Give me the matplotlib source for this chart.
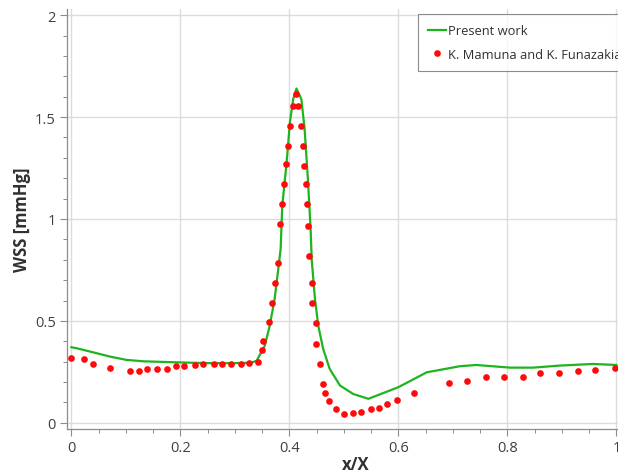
import numpy as np
import matplotlib.pyplot as plt
from matplotlib.ticker import MultipleLocator, FuncFormatter

plt.rcParams['font.family'] = ['Open Sans', 'DejaVu Sans']

# ---------------- data ----------------
# present work (green line)
present_x = [0.0, 0.01, 0.04, 0.071, 0.101, 0.132, 0.193, 0.25, 0.30, 0.33,
             0.34, 0.355, 0.364, 0.373, 0.379, 0.384, 0.387, 0.395, 0.401,
             0.407, 0.413, 0.422, 0.428, 0.434, 0.439, 0.441, 0.447, 0.453,
             0.462, 0.474, 0.493, 0.517, 0.545, 0.60, 0.652, 0.713, 0.743,
             0.805, 0.847, 0.896, 0.957, 1.0]
present_y = [0.371, 0.366, 0.346, 0.325, 0.309, 0.302, 0.297, 0.293, 0.293, 0.295,
             0.305, 0.379, 0.477, 0.608, 0.74, 0.853, 1.065, 1.278, 1.474,
             1.588, 1.64, 1.588, 1.441, 1.196, 0.951, 0.80, 0.608, 0.477,
             0.363, 0.265, 0.183, 0.142, 0.118, 0.175, 0.248, 0.278, 0.284,
             0.271, 0.271, 0.281, 0.289, 0.284]

# K. Mamuna and K. Funazakia (red dots)
ref_x = [0.0, 0.023, 0.04, 0.071, 0.107, 0.124, 0.138, 0.158, 0.176, 0.192,
         0.206, 0.226, 0.242, 0.261, 0.276, 0.293, 0.311, 0.326, 0.342, 0.349,
         0.352, 0.363, 0.369, 0.373, 0.379, 0.383, 0.386, 0.39, 0.393, 0.398,
         0.402, 0.407, 0.413, 0.416, 0.421, 0.425, 0.427, 0.43, 0.433, 0.434,
         0.436, 0.441, 0.442, 0.449, 0.449, 0.456, 0.462, 0.466, 0.472, 0.485,
         0.50, 0.517, 0.532, 0.55, 0.564, 0.58, 0.598, 0.629, 0.693, 0.726,
         0.761, 0.794, 0.828, 0.86, 0.895, 0.93, 0.96, 0.998]
ref_y = [0.317, 0.314, 0.289, 0.27, 0.253, 0.253, 0.266, 0.265, 0.266, 0.278,
         0.281, 0.286, 0.291, 0.288, 0.291, 0.291, 0.291, 0.294, 0.301, 0.358,
         0.40, 0.497, 0.588, 0.685, 0.784, 0.974, 1.075, 1.17, 1.27, 1.356,
         1.458, 1.552, 1.613, 1.552, 1.458, 1.359, 1.258, 1.17, 1.072, 0.967,
         0.82, 0.685, 0.588, 0.49, 0.387, 0.289, 0.191, 0.147, 0.105, 0.069,
         0.044, 0.047, 0.052, 0.069, 0.075, 0.093, 0.113, 0.147, 0.196, 0.207,
         0.227, 0.227, 0.227, 0.243, 0.244, 0.255, 0.258, 0.27]

# ---------------- figure ----------------
W, H = 618, 477
fig = plt.figure(figsize=(W / 100, H / 100), dpi=100)

x_min, x_max = -0.008, 1.05
y_min, y_max = -0.03, 2.03
left_px, bottom_px, top_px = 67, 430, 10
px_per_x = 545
right_px = left_px + (x_max - x_min) * px_per_x
ax = fig.add_axes([left_px / W, 1 - bottom_px / H,
                   (right_px - left_px) / W, (bottom_px - top_px) / H])

ax.set_xlim(x_min, x_max)
ax.set_ylim(y_min, y_max)

ax.plot(present_x, present_y, color='#1fb41f', lw=1.6, label='Present work',
        zorder=3)
ax.plot(ref_x, ref_y, 'o', color='#ff0a0a', ms=4.8, mec='none',
        label='K. Mamuna and K. Funazakia', zorder=4)

ax.xaxis.set_major_locator(MultipleLocator(0.2))
ax.xaxis.set_minor_locator(MultipleLocator(0.05))
ax.yaxis.set_major_locator(MultipleLocator(0.5))
ax.yaxis.set_minor_locator(MultipleLocator(0.1))
fmt = FuncFormatter(lambda v, p: '%g' % round(v, 3))
ax.xaxis.set_major_formatter(fmt)
ax.yaxis.set_major_formatter(fmt)

ax.grid(True, which='major', color='#dcdcdc', lw=1.0)
ax.set_axisbelow(True)

for s in ['top', 'right']:
    ax.spines[s].set_visible(False)
for s in ['left', 'bottom']:
    ax.spines[s].set_color('#8c8c8c')
    ax.spines[s].set_linewidth(0.9)

ax.tick_params(which='major', direction='out', length=5, width=0.8,
               color='#8c8c8c', labelsize=10.5, labelcolor='#404040', pad=3)
ax.tick_params(which='minor', direction='out', length=3, width=0.7,
               color='#8c8c8c')

ax.set_xlabel('x/X', fontsize=12, fontweight='bold', color='#303030',
              labelpad=0)
ax.set_ylabel('WSS [mmHg]', fontsize=12, fontweight='bold', color='#303030',
              labelpad=3)

leg = ax.legend(loc='upper left', bbox_to_anchor=(418 / W, 1 - 15 / H),
                bbox_transform=fig.transFigure, borderaxespad=0,
                fontsize=9.3, frameon=True, fancybox=False,
                edgecolor='#707070', handlelength=1.4, handletextpad=0.15,
                borderpad=0.8, labelspacing=0.82)
leg.get_frame().set_linewidth(0.8)
for t in leg.get_texts():
    t.set_color('#303030')

fig.savefig('out.png', dpi=100)
